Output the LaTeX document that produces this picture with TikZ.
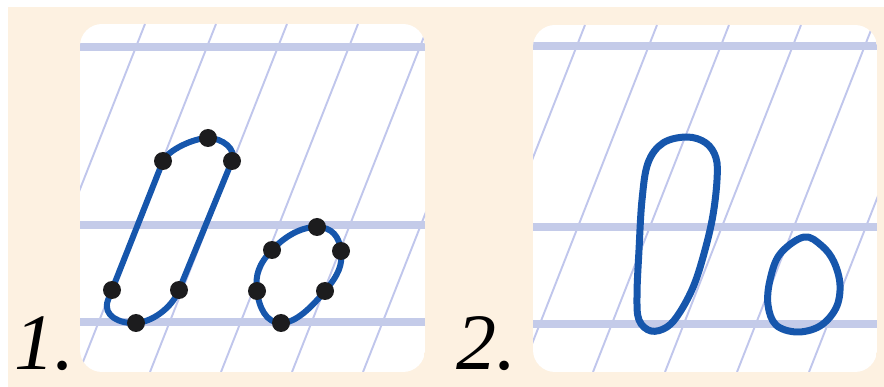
\documentclass[tikz,border=0pt]{standalone}
\usepackage{fontspec}
\setmainfont{Liberation Serif}
\usepackage{xcolor}
\usepackage{tikz}
\usetikzlibrary{positioning}
\definecolor{lbpaper}{RGB}{253,241,225}
\definecolor{lbrule}{RGB}{196,203,233}
\definecolor{lbslant}{RGB}{192,198,236}
\definecolor{lbink}{RGB}{22,86,172}
\definecolor{lbdot}{RGB}{28,28,30}

\begin{document}
\begin{tikzpicture}[x=1pt,y=1pt,
    rule/.style={lbrule,line width=7.5pt},
    slant/.style={lbslant,line width=1.9pt},
    letter/.style={lbink,line width=6pt,line join=round},
    pt/.style={fill=lbdot},
    num/.style={font=\fontsize{80}{80}\selectfont\itshape,inner sep=0pt,anchor=base west}]
  \useasboundingbox (0,0) rectangle (884,-387);
  \fill[white] (0,0) rectangle (884,-387);
  \fill[lbpaper] (8,-7) rectangle (884,-387);
  % panel 1: dotted letters
  \begin{scope}
    \clip[rounded corners=22pt] (80,-24) rectangle (425,-372);
    \fill[white] (80,-24) rectangle (425,-372);
    \foreach \k in {-2,...,5}
      \draw[slant] ({145+71*\k},-24) -- ({8+71*\k},-372);
    \foreach \y in {47,225,322}
      \draw[rule] (80,-\y) -- (425,-\y);
  \end{scope}
  \draw[letter] (163,-161) -- (108,-300) .. controls (102,-316) and (120,-324) .. (136,-323)
    .. controls (152,-322) and (172,-308) .. (179,-290) -- (232,-161)
    .. controls (237,-149) and (222,-138) .. (208,-138)
    .. controls (194,-138) and (168,-150) .. (163,-161) -- cycle;
  \draw[letter] plot[smooth cycle,tension=0.8] coordinates
    {(317,-227) (341,-251) (325,-291) (281,-323) (257,-291) (272,-250)};
  \foreach \p in {(208,-138),(163,-161),(232,-161),(112,-290),(136,-323),(179,-290),
                  (317,-227),(272,-250),(341,-251),(257,-291),(325,-291),(281,-323)}
    \fill[pt] \p circle (9);
  \node[num] (lab1) at (14,-370) {1.};
  % panel 2: finished letters
  \begin{scope}
    \clip[rounded corners=22pt] (533,-25) rectangle (877,-372);
    \fill[white] (533,-25) rectangle (877,-372);
    \foreach \k in {-2,...,5}
      \draw[slant] ({585+72*\k},-25) -- ({449+72*\k},-372);
    \foreach \y in {46,227,324}
      \draw[rule] (533,-\y) -- (877,-\y);
  \end{scope}
  \draw[letter,line width=7pt] plot[smooth cycle,tension=0.6] coordinates
    {(687,-137) (706,-143) (716,-158) (717,-180) (713,-215) (705,-250) (694,-285)
     (680,-312) (667,-327) (651,-331) (639,-320) (637,-295) (639,-250) (642,-200)
     (648,-163) (663,-143)};
  \draw[letter,line width=7pt] plot[smooth cycle,tension=0.6] coordinates
    {(804,-237) (822,-246) (834,-262) (840,-285) (836,-308) (820,-326) (797,-332)
     (776,-325) (768,-305) (770,-280) (780,-254)};
  \node[num] (lab2) at (456,-370) {2.};
\end{tikzpicture}
\end{document}
